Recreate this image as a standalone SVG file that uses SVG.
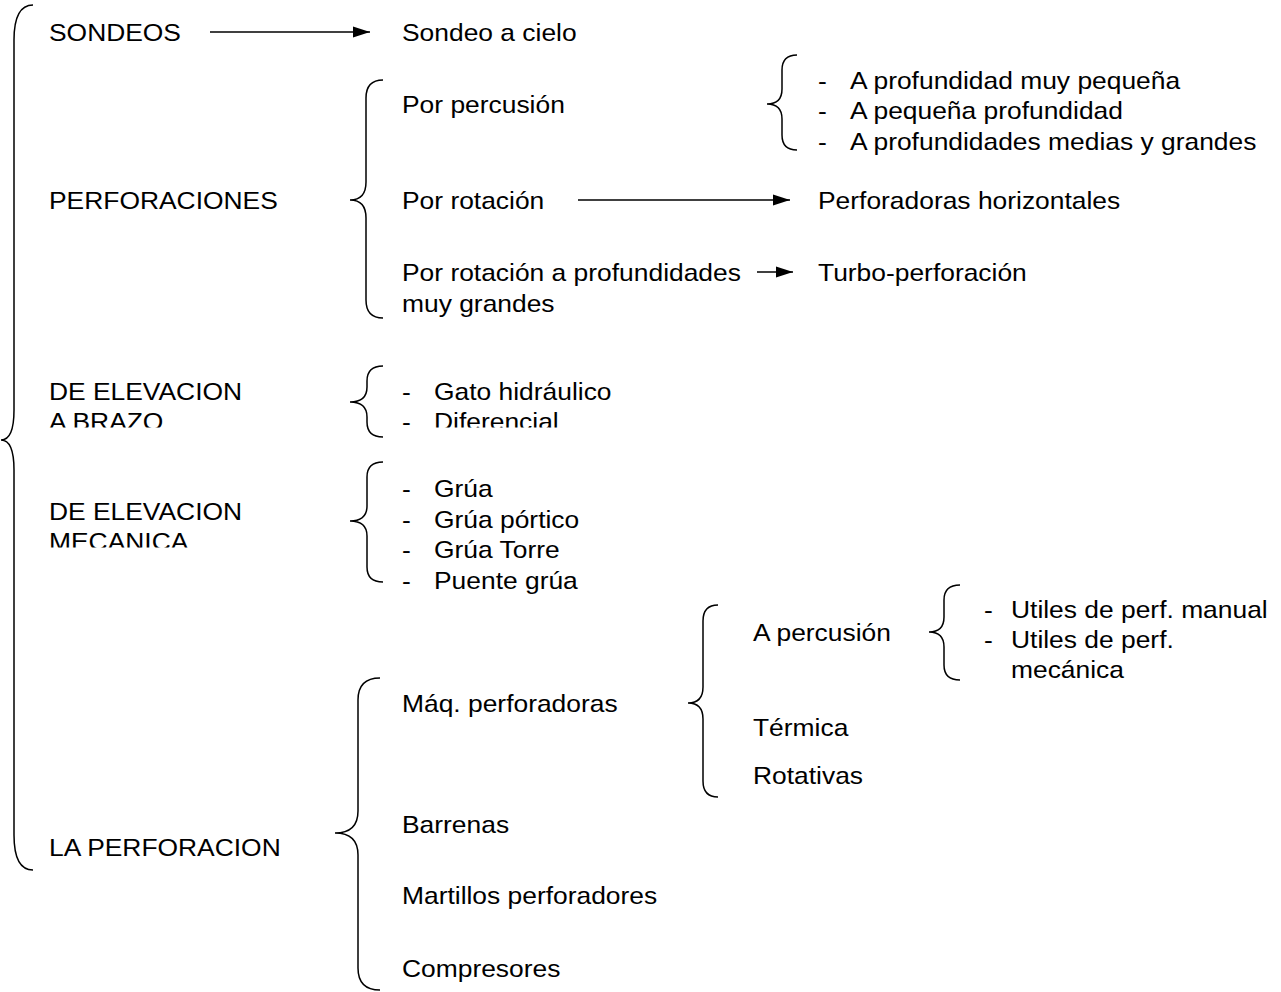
<svg xmlns="http://www.w3.org/2000/svg" width="1281" height="992" viewBox="0 0 1281 992">
<style>
text{font-family:"Liberation Sans",Arial,sans-serif;font-size:24px;fill:#000}
.br{fill:none;stroke:#000;stroke-width:1.5}
.ar{fill:none;stroke:#000;stroke-width:1.5}
</style>
<defs>
<marker id="ah" markerUnits="userSpaceOnUse" markerWidth="18" markerHeight="12" refX="17" refY="6" orient="auto">
<path d="M0,0.5 L17,6 L0,11.5 z" fill="#000"/>
</marker>
<clipPath id="c1"><rect x="0" y="360" width="700" height="67.5"/></clipPath>
<clipPath id="c2"><rect x="0" y="480" width="300" height="67.5"/></clipPath>
</defs>
<rect width="1281" height="992" fill="#fff"/>
<g id="connectors">
<path class="br" d="M33,5 Q14,5 14,40 L14,410 Q14,440 1,440 Q14,440 14,470 L14,835 Q14,870 33,870"/>
<path class="br" d="M383,80 Q366,80 366,98 L366,182 Q366,200 350,200 Q366,200 366,218 L366,300 Q366,318 383,318"/>
<path class="br" d="M797,55 Q782,55 782,70 L782,89 Q782,104 767,104 Q782,104 782,119 L782,135 Q782,150 797,150"/>
<path class="br" d="M383,366 Q367,366 367,381 L367,387 Q367,402 350,402 Q367,402 367,417 L367,422 Q367,437 383,437"/>
<path class="br" d="M383,462 Q367,462 367,477 L367,506 Q367,521 350,521 Q367,521 367,536 L367,567 Q367,582 383,582"/>
<path class="br" d="M960,585 Q944,585 944,600 L944,617 Q944,632 929,632 Q944,632 944,647 L944,665 Q944,680 960,680"/>
<path class="br" d="M718,605 Q703,605 703,621 L703,687 Q703,703 688,703 Q703,703 703,719 L703,781 Q703,797 718,797"/>
<path class="br" d="M380,678 Q358,678 358,700 L358,811 Q358,833 335,833 Q358,833 358,855 L358,968 Q358,990 380,990"/>
<line class="ar" x1="210" y1="32" x2="370" y2="32" marker-end="url(#ah)"/>
<line class="ar" x1="578" y1="200" x2="790" y2="200" marker-end="url(#ah)"/>
<line class="ar" x1="757" y1="272" x2="793" y2="272" marker-end="url(#ah)"/>
</g>
<g id="sondeos"><text transform="translate(49 41) scale(1.1 1)">SONDEOS</text></g>
<g id="sondeo-cielo"><text transform="translate(402 41) scale(1.1 1)">Sondeo a cielo</text></g>
<g id="perforaciones"><text transform="translate(49 209) scale(1.1 1)">PERFORACIONES</text></g>
<g id="por-percusion"><text transform="translate(402 113) scale(1.1 1)">Por percusión</text></g>
<g id="percusion-list">
<text transform="translate(818 89) scale(1.1 1)">-</text><text transform="translate(850 89) scale(1.1 1)">A profundidad muy pequeña</text>
<text transform="translate(818 119) scale(1.1 1)">-</text><text transform="translate(850 119) scale(1.1 1)">A pequeña profundidad</text>
<text transform="translate(818 150) scale(1.1 1)">-</text><text transform="translate(850 150) scale(1.1 1)">A profundidades medias y grandes</text>
</g>
<g id="por-rotacion"><text transform="translate(402 209) scale(1.1 1)">Por rotación</text></g>
<g id="perforadoras-horizontales"><text transform="translate(818 209) scale(1.1 1)">Perforadoras horizontales</text></g>
<g id="por-rotacion-grandes">
<text transform="translate(402 281) scale(1.1 1)">Por rotación a profundidades</text>
<text transform="translate(402 312) scale(1.1 1)">muy grandes</text>
</g>
<g id="turbo"><text transform="translate(818 281) scale(1.1 1)">Turbo-perforación</text></g>
<g id="elevacion-brazo" clip-path="url(#c1)">
<text transform="translate(49 400) scale(1.1 1)">DE ELEVACION</text>
<text transform="translate(49 430) scale(1.1 1)">A BRAZO</text>
</g>
<g id="brazo-list" clip-path="url(#c1)">
<text transform="translate(402 400) scale(1.1 1)">-</text><text transform="translate(434 400) scale(1.1 1)">Gato hidráulico</text>
<text transform="translate(402 430) scale(1.1 1)">-</text><text transform="translate(434 430) scale(1.1 1)">Diferencial</text>
</g>
<g id="elevacion-mecanica" clip-path="url(#c2)">
<text transform="translate(49 520) scale(1.1 1)">DE ELEVACION</text>
<text transform="translate(49 550) scale(1.1 1)">MECANICA</text>
</g>
<g id="mecanica-list">
<text transform="translate(402 497) scale(1.1 1)">-</text><text transform="translate(434 497) scale(1.1 1)">Grúa</text>
<text transform="translate(402 528) scale(1.1 1)">-</text><text transform="translate(434 528) scale(1.1 1)">Grúa pórtico</text>
<text transform="translate(402 558) scale(1.1 1)">-</text><text transform="translate(434 558) scale(1.1 1)">Grúa Torre</text>
<text transform="translate(402 589) scale(1.1 1)">-</text><text transform="translate(434 589) scale(1.1 1)">Puente grúa</text>
</g>
<g id="la-perforacion"><text transform="translate(49 856) scale(1.1 1)">LA PERFORACION</text></g>
<g id="maq-perforadoras"><text transform="translate(402 712) scale(1.1 1)">Máq. perforadoras</text></g>
<g id="a-percusion"><text transform="translate(753 641) scale(1.1 1)">A percusión</text></g>
<g id="utiles-list">
<text transform="translate(984 618) scale(1.1 1)">-</text><text transform="translate(1011 618) scale(1.1 1)">Utiles de perf. manual</text>
<text transform="translate(984 648) scale(1.1 1)">-</text><text transform="translate(1011 648) scale(1.1 1)">Utiles de perf.</text>
<text transform="translate(1011 678) scale(1.1 1)">mecánica</text>
</g>
<g id="termica"><text transform="translate(753 736) scale(1.1 1)">Térmica</text></g>
<g id="rotativas"><text transform="translate(753 784) scale(1.1 1)">Rotativas</text></g>
<g id="barrenas"><text transform="translate(402 833) scale(1.1 1)">Barrenas</text></g>
<g id="martillos"><text transform="translate(402 904) scale(1.1 1)">Martillos perforadores</text></g>
<g id="compresores"><text transform="translate(402 977) scale(1.1 1)">Compresores</text></g>
</svg>
